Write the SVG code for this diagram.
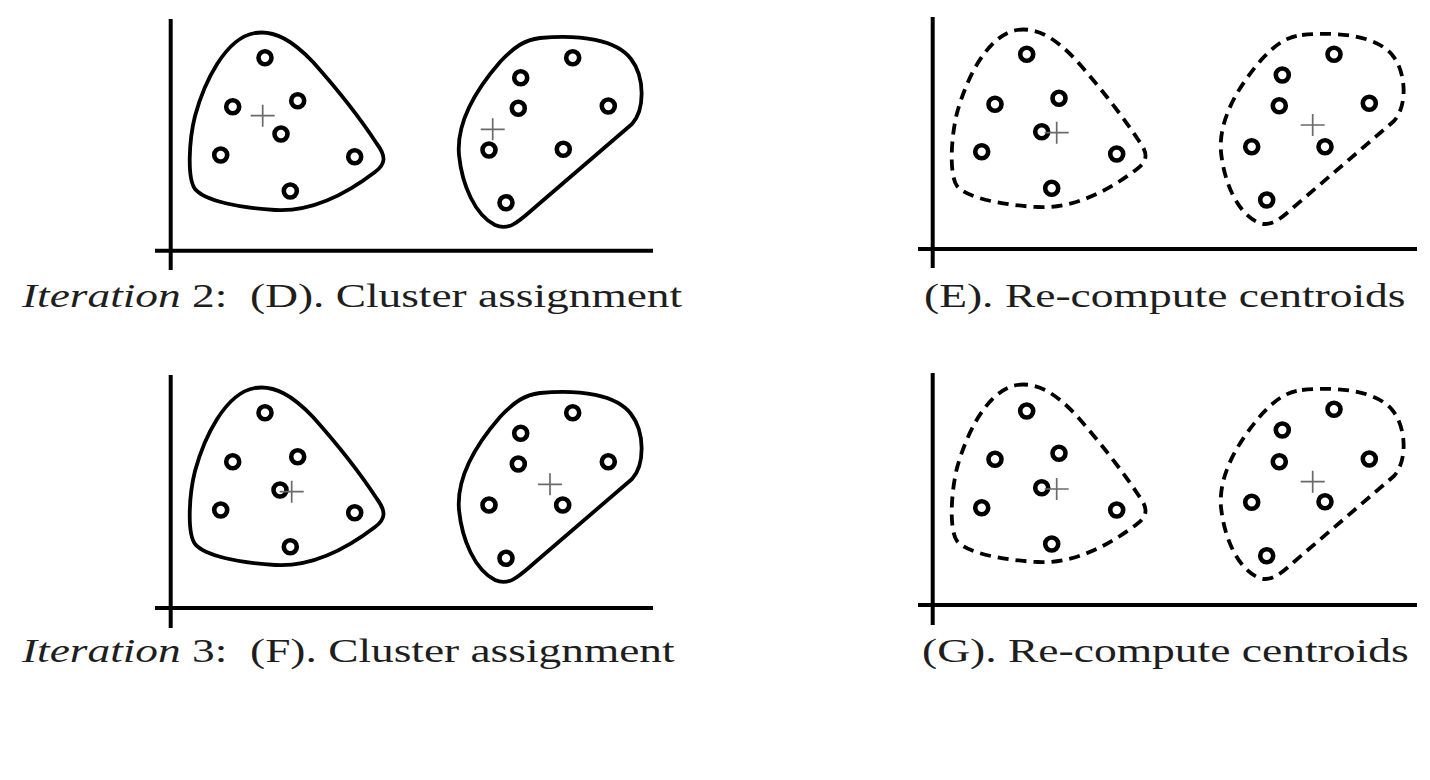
<svg xmlns="http://www.w3.org/2000/svg" xmlns:xlink="http://www.w3.org/1999/xlink" width="1430" height="780" viewBox="0 0 1430 780">
<style>
.axis{stroke:#000;stroke-width:4;fill:none}
.hull{stroke:#000;stroke-width:3.8;fill:none;stroke-linejoin:round}
.dash{stroke-dasharray:11 7}
.pt{stroke:#000;stroke-width:4.6;fill:#fff}
.cen{stroke:#6a6a6a;stroke-width:1.7;fill:none}
.lbl{font-family:"Liberation Serif","Times New Roman",serif;font-size:33px;fill:#1e1e1e}
.it{font-style:italic}
</style>
<defs>
<path id="h1" d="M 255,33 C 275,30 293,41 313,62 C 338,90 362,121 377,144 C 386,156 386,164 375,172 C 345,195 310,212 275,210 C 240,208 205,201 195,189 C 187,178 189,140 195,116 C 204,83 225,38 255,33 Z"/>
<path id="h2" d="M 540,38 C 580,34 617,40 631,59 C 645,77 645,110 632,124 L 540,203 C 520,220 510,232 495,225 C 475,215 462,185 459,155 C 456,120 480,85 500,62 C 515,46 525,40 540,38 Z"/>
<path id="plus" d="M -12,0 H 12 M 0,-11 V 11"/>
</defs>
<rect width="1430" height="780" fill="#fff"/>

<g id="panel-D">
<path class="axis" d="M 170.7,19 V 270 M 155,250.7 H 653"/>
<use xlink:href="#h1" class="hull"/>
<use xlink:href="#h2" class="hull"/>
<g class="pt">
<circle cx="265" cy="57.7" r="6.5"/><circle cx="232.7" cy="106.7" r="6.5"/><circle cx="297.7" cy="100.7" r="6.5"/><circle cx="281" cy="134" r="6.5"/><circle cx="220.7" cy="155" r="6.5"/><circle cx="354.7" cy="156.7" r="6.5"/><circle cx="290.3" cy="191" r="6.5"/>
<circle cx="572.7" cy="57.7" r="6.5"/><circle cx="520.7" cy="77.7" r="6.5"/><circle cx="518.3" cy="108.3" r="6.5"/><circle cx="608.3" cy="106" r="6.5"/><circle cx="489" cy="150" r="6.5"/><circle cx="563.3" cy="149.3" r="6.5"/><circle cx="506" cy="202.7" r="6.5"/>
</g>
<use xlink:href="#plus" class="cen" x="262.7" y="115.7"/>
<use xlink:href="#plus" class="cen" x="492.7" y="129.3"/>
<text class="lbl" xml:space="preserve" transform="translate(22,307) scale(1.375,1)"><tspan class="it">Iteration</tspan> 2:  (D). Cluster assignment</text>
</g>

<g id="panel-E">
<path class="axis" d="M 932.7,17 V 268 M 918,249 H 1417"/>
<g transform="translate(762,-3)">
<use xlink:href="#h1" class="hull dash"/>
<use xlink:href="#h2" class="hull dash"/>
</g>
<g class="pt">
<circle cx="1026.7" cy="54.3" r="6.5"/><circle cx="995" cy="104.3" r="6.5"/><circle cx="1059" cy="98.3" r="6.5"/><circle cx="1041.7" cy="131.7" r="6.5"/><circle cx="981.7" cy="151.7" r="6.5"/><circle cx="1116.7" cy="154" r="6.5"/><circle cx="1051.7" cy="188.3" r="6.5"/>
<circle cx="1334" cy="54.3" r="6.5"/><circle cx="1282.3" cy="75" r="6.5"/><circle cx="1279.3" cy="105.7" r="6.5"/><circle cx="1369.3" cy="103.3" r="6.5"/><circle cx="1251.7" cy="146.7" r="6.5"/><circle cx="1325" cy="146.7" r="6.5"/><circle cx="1266.7" cy="200" r="6.5"/>
</g>
<use xlink:href="#plus" class="cen" x="1056.7" y="132.7"/>
<use xlink:href="#plus" class="cen" x="1312.7" y="125"/>
<text class="lbl" transform="translate(924,307) scale(1.38,1)">(E). Re-compute centroids</text>
</g>

<g id="panel-F">
<path class="axis" d="M 170.7,375 V 628 M 155,608 H 653"/>
<g transform="translate(0,355)">
<use xlink:href="#h1" class="hull"/>
<use xlink:href="#h2" class="hull"/>
</g>
<g class="pt">
<circle cx="265" cy="412.7" r="6.5"/><circle cx="232.7" cy="461.7" r="6.5"/><circle cx="297.7" cy="456.7" r="6.5"/><circle cx="280" cy="490" r="6.5"/><circle cx="220.7" cy="510" r="6.5"/><circle cx="354.7" cy="512.7" r="6.5"/><circle cx="290.3" cy="546.7" r="6.5"/>
<circle cx="572.7" cy="412.7" r="6.5"/><circle cx="520.7" cy="433.3" r="6.5"/><circle cx="518.3" cy="464" r="6.5"/><circle cx="608.3" cy="461.7" r="6.5"/><circle cx="489" cy="505" r="6.5"/><circle cx="562.7" cy="505" r="6.5"/><circle cx="506" cy="558.3" r="6.5"/>
</g>
<use xlink:href="#plus" class="cen" x="291.7" y="491.7"/>
<use xlink:href="#plus" class="cen" x="550" y="484.3"/>
<text class="lbl" xml:space="preserve" transform="translate(22,662) scale(1.375,1)"><tspan class="it">Iteration</tspan> 3:  (F). Cluster assignment</text>
</g>

<g id="panel-G">
<path class="axis" d="M 932.7,373 V 625 M 918,605 H 1417"/>
<g transform="translate(762,352)">
<use xlink:href="#h1" class="hull dash"/>
<use xlink:href="#h2" class="hull dash"/>
</g>
<g class="pt">
<circle cx="1026.7" cy="411" r="6.5"/><circle cx="995" cy="459.3" r="6.5"/><circle cx="1059" cy="453.3" r="6.5"/><circle cx="1041.7" cy="487.7" r="6.5"/><circle cx="981.7" cy="507.7" r="6.5"/><circle cx="1116.7" cy="510" r="6.5"/><circle cx="1051.7" cy="544" r="6.5"/>
<circle cx="1334" cy="409.3" r="6.5"/><circle cx="1282.3" cy="430" r="6.5"/><circle cx="1279.3" cy="461.7" r="6.5"/><circle cx="1369.3" cy="459" r="6.5"/><circle cx="1251.7" cy="502.3" r="6.5"/><circle cx="1325" cy="501.7" r="6.5"/><circle cx="1266.7" cy="555.7" r="6.5"/>
</g>
<use xlink:href="#plus" class="cen" x="1056.7" y="489"/>
<use xlink:href="#plus" class="cen" x="1312.7" y="481.7"/>
<text class="lbl" transform="translate(922,662) scale(1.38,1)">(G). Re-compute centroids</text>
</g>
</svg>
